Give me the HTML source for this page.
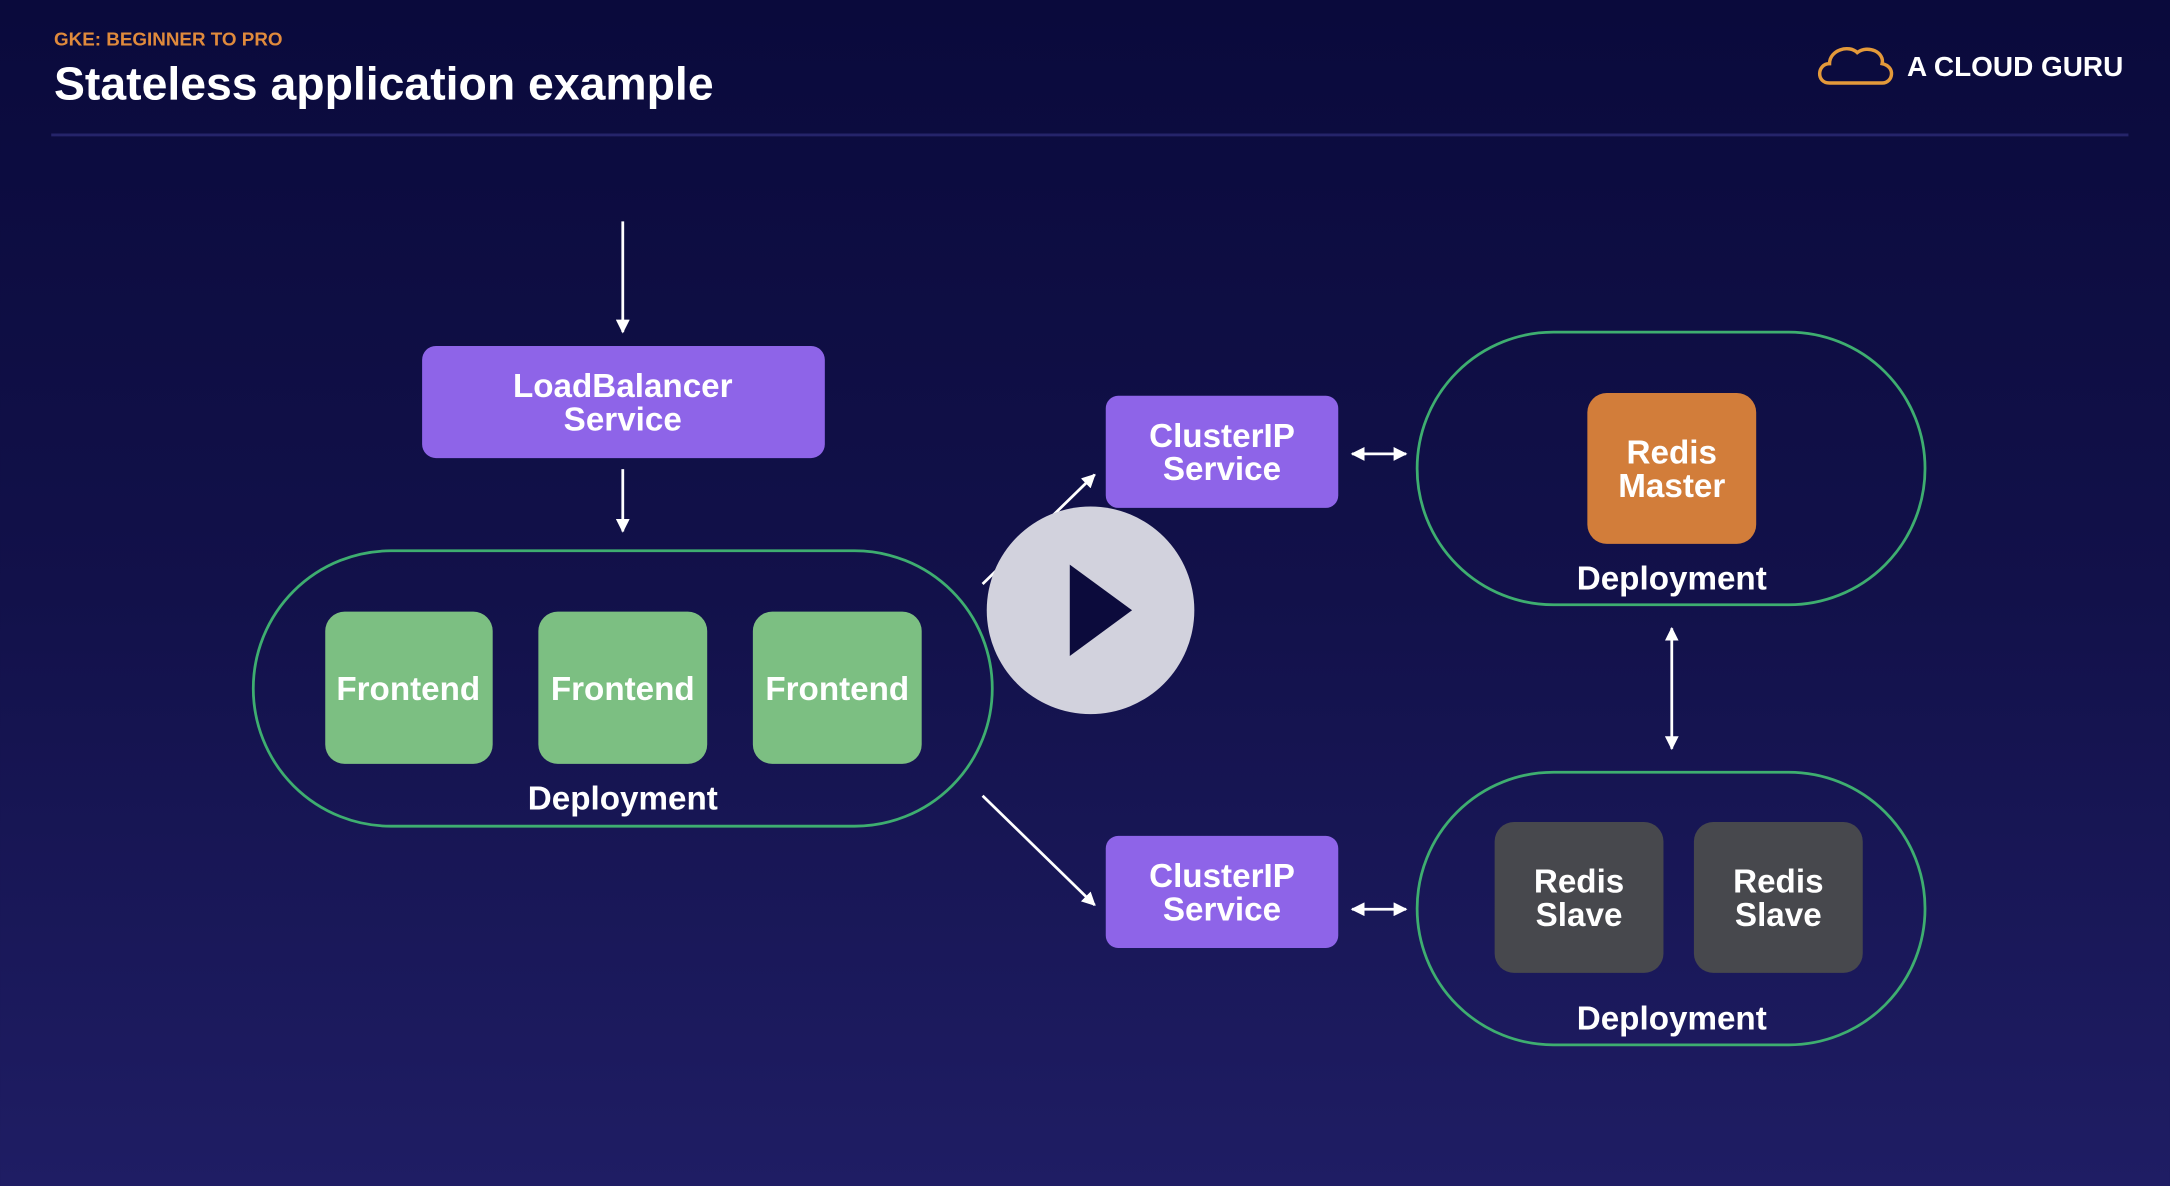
<!DOCTYPE html>
<html><head><meta charset="utf-8"><style>
html,body{margin:0;padding:0;width:2170px;height:1186px;overflow:hidden;background:#0c0b3c}
svg{display:block}
text{font-family:"Liberation Sans",Arial,sans-serif;font-weight:bold;fill:#fff}
</style></head><body>
<svg width="2170" height="1186" viewBox="0 0 1568 857" xmlns="http://www.w3.org/2000/svg">
<defs>
<linearGradient id="bg" x1="0" y1="0" x2="0" y2="1">
<stop offset="0" stop-color="#0a0a3c"/><stop offset="0.5" stop-color="#12114a"/><stop offset="1" stop-color="#1f1d64"/>
</linearGradient>
<marker id="ah" viewBox="0 0 10 10" refX="9" refY="5" markerWidth="5" markerHeight="5" orient="auto-start-reverse">
<path d="M0,0 L10,5 L0,10 z" fill="#fff"/></marker>
</defs>
<rect width="1568" height="857" fill="url(#bg)"/>
<text x="39" y="33" font-size="13.6" style="fill:#e08a3c">GKE: BEGINNER TO PRO</text>
<text x="39" y="72" font-size="33.5">Stateless application example</text>
<line x1="37" y1="97.5" x2="1538" y2="97.5" stroke="#25246a" stroke-width="2"/>
<path d="M1322,60 C1312,60 1313,46 1322,46 C1322,36 1336,32 1342,38 C1350,32 1362,38 1360,46 C1370,48 1368,60 1360,60 Z" fill="none" stroke="#e49a3a" stroke-width="2.5"/>
<text x="1378" y="55" font-size="20.2">A CLOUD GURU</text>
<g stroke="#fff" stroke-width="2" fill="none">
<line x1="450" y1="160" x2="450" y2="240" marker-end="url(#ah)"/>
<line x1="450" y1="339" x2="450" y2="384" marker-end="url(#ah)"/>
<line x1="710" y1="422" x2="791" y2="343" marker-end="url(#ah)"/>
<line x1="710" y1="575" x2="791" y2="654" marker-end="url(#ah)"/>
<line x1="977" y1="328" x2="1016" y2="328" marker-start="url(#ah)" marker-end="url(#ah)"/>
<line x1="977" y1="657" x2="1016" y2="657" marker-start="url(#ah)" marker-end="url(#ah)"/>
<line x1="1208" y1="454" x2="1208" y2="541" marker-start="url(#ah)" marker-end="url(#ah)"/>
</g>
<g fill="none" stroke="#3eae70" stroke-width="2">
<rect x="183" y="398" width="534" height="199" rx="99.5"/>
<rect x="1024" y="240" width="367" height="197" rx="98.5"/>
<rect x="1024" y="558" width="367" height="197" rx="98.5"/>
</g>
<g fill="#8e64e8">
<rect x="305" y="250" width="291" height="81" rx="10"/>
<rect x="799" y="286" width="168" height="81" rx="9"/>
<rect x="799" y="604" width="168" height="81" rx="9"/>
</g>
<g fill="#7cbf82">
<rect x="235" y="442" width="121" height="110" rx="14"/>
<rect x="389" y="442" width="122" height="110" rx="14"/>
<rect x="544" y="442" width="122" height="110" rx="14"/>
</g>
<rect x="1147" y="284" width="122" height="109" rx="14" fill="#d27d3a"/>
<rect x="1080" y="594" width="122" height="109" rx="14" fill="#47484d"/>
<rect x="1224" y="594" width="122" height="109" rx="14" fill="#47484d"/>
<g font-size="24" text-anchor="middle">
<text x="450" y="287">LoadBalancer</text><text x="450" y="311">Service</text>
<text x="883" y="323">ClusterIP</text><text x="883" y="347">Service</text>
<text x="883" y="641">ClusterIP</text><text x="883" y="665">Service</text>
<text x="295" y="506">Frontend</text><text x="450" y="506">Frontend</text><text x="605" y="506">Frontend</text>
<text x="1208" y="335">Redis</text><text x="1208" y="359">Master</text>
<text x="1141" y="645">Redis</text><text x="1141" y="669">Slave</text>
<text x="1285" y="645">Redis</text><text x="1285" y="669">Slave</text>
<text x="450" y="585">Deployment</text>
<text x="1208" y="426">Deployment</text>
<text x="1208" y="744">Deployment</text>
</g>
<circle cx="788" cy="441" r="75" fill="#d2d2dd"/>
<path d="M773,408 L773,474 L818,441 Z" fill="#0c0b3c"/>
</svg>
</body></html>
